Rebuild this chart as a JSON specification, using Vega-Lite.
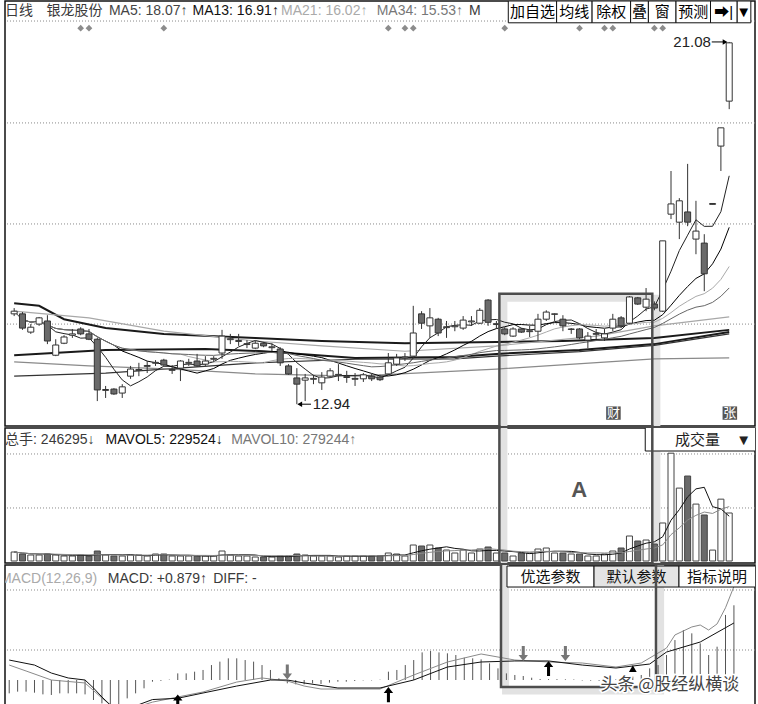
{
"$schema":"https://vega.github.io/schema/vega-lite/v6.json",
"padding":{"left":3,"top":0,"right":5,"bottom":4},
"spacing":0,
"background":"#ffffff",
"config":{"font":"Liberation Sans, Noto Sans CJK SC","view":{"stroke":"#111","strokeWidth":1.5}},
"resolve":{"scale":{"y":"independent","color":"independent","shape":"independent"}},
"datasets":{
"k":[
{"i":0,"o":14.97,"c":15.03,"h":15.10,"l":14.92,"v":46170,"m":-0.157},
{"i":1,"o":14.97,"c":14.65,"h":15.01,"l":14.61,"v":35910,"m":-0.137},
{"i":2,"o":14.56,"c":14.67,"h":14.74,"l":14.52,"v":30780,"m":-0.137},
{"i":3,"o":14.74,"c":14.88,"h":14.90,"l":14.70,"v":30780,"m":-0.149},
{"i":4,"o":14.81,"c":14.36,"h":14.94,"l":14.29,"v":35910,"m":-0.169},
{"i":5,"o":14.04,"c":14.27,"h":14.40,"l":14.02,"v":30780,"m":-0.176},
{"i":6,"o":14.31,"c":14.45,"h":14.49,"l":14.29,"v":25650,"m":-0.157},
{"i":7,"o":14.49,"c":14.52,"h":14.63,"l":14.43,"v":25650,"m":-0.157},
{"i":8,"o":14.63,"c":14.52,"h":14.67,"l":14.49,"v":30780,"m":-0.157},
{"i":9,"o":14.52,"c":14.40,"h":14.63,"l":14.38,"v":25650,"m":-0.169},
{"i":10,"o":14.40,"c":13.26,"h":14.43,"l":13.01,"v":51300,"m":-0.235},
{"i":11,"o":13.25,"c":13.27,"h":13.35,"l":13.08,"v":30780,"m":-0.275},
{"i":12,"o":13.28,"c":13.17,"h":13.30,"l":13.15,"v":25650,"m":-0.294},
{"i":13,"o":13.19,"c":13.33,"h":13.39,"l":13.08,"v":25650,"m":-0.314},
{"i":14,"o":13.57,"c":13.73,"h":13.80,"l":13.51,"v":30780,"m":-0.216},
{"i":15,"o":13.70,"c":13.72,"h":13.87,"l":13.57,"v":30780,"m":-0.157},
{"i":16,"o":13.79,"c":13.81,"h":13.91,"l":13.64,"v":25650,"m":-0.098},
{"i":17,"o":13.86,"c":13.88,"h":13.93,"l":13.80,"v":35910,"m":-0.02},
{"i":18,"o":13.93,"c":13.82,"h":13.96,"l":13.80,"v":35910,"m":-0.01},
{"i":19,"o":13.70,"c":13.72,"h":13.82,"l":13.62,"v":25650,"m":0.005},
{"i":20,"o":13.75,"c":13.91,"h":13.93,"l":13.46,"v":25650,"m":0.078},
{"i":21,"o":13.86,"c":13.88,"h":13.96,"l":13.80,"v":25650,"m":0.078},
{"i":22,"o":13.91,"c":13.80,"h":14.07,"l":13.78,"v":25650,"m":0.098},
{"i":23,"o":13.84,"c":13.91,"h":14.02,"l":13.80,"v":25650,"m":0.118},
{"i":24,"o":13.95,"c":13.97,"h":14.02,"l":13.89,"v":25650,"m":0.176},
{"i":25,"o":14.09,"c":14.47,"h":14.61,"l":13.96,"v":51300,"m":0.216},
{"i":26,"o":14.39,"c":14.41,"h":14.52,"l":14.29,"v":30780,"m":0.255},
{"i":27,"o":14.35,"c":14.37,"h":14.52,"l":14.25,"v":25650,"m":0.255},
{"i":28,"o":14.28,"c":14.30,"h":14.38,"l":14.20,"v":25650,"m":0.235},
{"i":29,"o":14.20,"c":14.31,"h":14.36,"l":14.18,"v":20520,"m":0.216},
{"i":30,"o":14.31,"c":14.25,"h":14.34,"l":14.22,"v":20520,"m":0.176},
{"i":31,"o":14.21,"c":14.23,"h":14.31,"l":14.13,"v":20520,"m":0.118},
{"i":32,"o":14.18,"c":13.87,"h":14.22,"l":13.80,"v":25650,"m":0.02},
{"i":33,"o":13.80,"c":13.62,"h":13.84,"l":13.60,"v":25650,"m":-0.039},
{"i":34,"o":13.53,"c":13.39,"h":13.75,"l":12.94,"v":35910,"m":-0.051},
{"i":35,"o":13.48,"c":13.53,"h":13.62,"l":13.01,"v":30780,"m":-0.051},
{"i":36,"o":13.50,"c":13.52,"h":13.60,"l":13.39,"v":25650,"m":-0.039},
{"i":37,"o":13.42,"c":13.55,"h":13.66,"l":13.26,"v":25650,"m":-0.047},
{"i":38,"o":13.57,"c":13.69,"h":13.75,"l":13.55,"v":25650,"m":-0.031},
{"i":39,"o":13.59,"c":13.61,"h":13.84,"l":13.46,"v":20520,"m":-0.02},
{"i":40,"o":13.54,"c":13.56,"h":13.69,"l":13.42,"v":25650,"m":-0.02},
{"i":41,"o":13.50,"c":13.52,"h":13.64,"l":13.35,"v":25650,"m":-0.012},
{"i":42,"o":13.51,"c":13.60,"h":13.64,"l":13.44,"v":25650,"m":-0.005},
{"i":43,"o":13.57,"c":13.51,"h":13.62,"l":13.46,"v":25650,"m":-0.005},
{"i":44,"o":13.55,"c":13.49,"h":13.60,"l":13.46,"v":25650,"m":0.004},
{"i":45,"o":13.62,"c":13.87,"h":14.09,"l":13.60,"v":41040,"m":0.098},
{"i":46,"o":13.84,"c":13.98,"h":14.07,"l":13.80,"v":35910,"m":0.118},
{"i":47,"o":13.98,"c":14.00,"h":14.09,"l":13.91,"v":25650,"m":0.176},
{"i":48,"o":14.02,"c":14.54,"h":15.15,"l":13.98,"v":82080,"m":0.235},
{"i":49,"o":14.97,"c":14.76,"h":15.03,"l":14.63,"v":76950,"m":0.325},
{"i":50,"o":14.70,"c":14.88,"h":15.10,"l":14.43,"v":82080,"m":0.341},
{"i":51,"o":14.85,"c":14.54,"h":14.88,"l":14.47,"v":66690,"m":0.325},
{"i":52,"o":14.66,"c":14.68,"h":14.81,"l":14.43,"v":56430,"m":0.314},
{"i":53,"o":14.68,"c":14.70,"h":14.81,"l":14.58,"v":41040,"m":0.294},
{"i":54,"o":14.65,"c":14.83,"h":14.92,"l":14.61,"v":56430,"m":0.263},
{"i":55,"o":14.79,"c":14.81,"h":14.92,"l":14.70,"v":41040,"m":0.255},
{"i":56,"o":14.76,"c":15.05,"h":15.10,"l":14.74,"v":61560,"m":0.243},
{"i":57,"o":15.28,"c":14.78,"h":15.30,"l":14.70,"v":71820,"m":0.196},
{"i":58,"o":14.73,"c":14.75,"h":14.81,"l":14.63,"v":41040,"m":0.137},
{"i":59,"o":14.63,"c":14.52,"h":14.67,"l":14.49,"v":41040,"m":0.078},
{"i":60,"o":14.47,"c":14.63,"h":14.67,"l":14.45,"v":25650,"m":0.059},
{"i":61,"o":14.63,"c":14.56,"h":14.65,"l":14.54,"v":41040,"m":0.047},
{"i":62,"o":14.57,"c":14.59,"h":14.70,"l":14.45,"v":41040,"m":0.027},
{"i":63,"o":14.58,"c":14.85,"h":14.97,"l":14.36,"v":61560,"m":0.012},
{"i":64,"o":14.85,"c":15.01,"h":15.05,"l":14.81,"v":66690,"m":0.01},
{"i":65,"o":14.96,"c":14.97,"h":14.98,"l":14.81,"v":41040,"m":0.01},
{"i":66,"o":14.85,"c":14.70,"h":14.94,"l":14.58,"v":41040,"m":0.008},
{"i":67,"o":14.62,"c":14.63,"h":14.65,"l":14.52,"v":35910,"m":0.006},
{"i":68,"o":14.63,"c":14.43,"h":14.65,"l":14.40,"v":35910,"m":-0.006},
{"i":69,"o":14.38,"c":14.47,"h":14.56,"l":14.20,"v":25650,"m":-0.008},
{"i":70,"o":14.51,"c":14.53,"h":14.63,"l":14.40,"v":25650,"m":-0.01},
{"i":71,"o":14.43,"c":14.52,"h":14.63,"l":14.36,"v":35910,"m":-0.008},
{"i":72,"o":14.65,"c":14.85,"h":14.97,"l":14.58,"v":51300,"m":0.01},
{"i":73,"o":14.88,"c":14.70,"h":14.92,"l":14.65,"v":66690,"m":0.02},
{"i":74,"o":14.76,"c":15.35,"h":15.37,"l":14.74,"v":128250,"m":0.04},
{"i":75,"o":15.33,"c":15.19,"h":15.35,"l":15.17,"v":102600,"m":0.059},
{"i":76,"o":15.12,"c":15.30,"h":15.55,"l":15.03,"v":107730,"m":0.137},
{"i":77,"o":15.19,"c":15.10,"h":15.25,"l":15.05,"v":87000,"m":0.176},
{"i":78,"o":15.03,"c":16.61,"h":16.61,"l":15.01,"v":195000,"m":0.294},
{"i":79,"o":17.21,"c":17.44,"h":18.18,"l":17.10,"v":553000,"m":0.47},
{"i":80,"o":17.03,"c":17.51,"h":17.57,"l":16.65,"v":374000,"m":0.588},
{"i":81,"o":17.26,"c":17.03,"h":18.34,"l":16.94,"v":435820,"m":0.549},
{"i":82,"o":16.65,"c":16.83,"h":17.51,"l":16.31,"v":292000,"m":0.431},
{"i":83,"o":16.56,"c":15.87,"h":16.76,"l":15.48,"v":236000,"m":0.294},
{"i":84,"o":17.43,"c":17.45,"h":17.45,"l":17.43,"v":56000,"m":0.392},
{"i":85,"o":18.74,"c":19.15,"h":19.15,"l":18.18,"v":317325,"m":0.765},
{"i":86,"o":19.75,"c":21.06,"h":21.08,"l":19.57,"v":246295,"m":0.879}
],
"lt":[
{"s":"L1","i":0,"p":15.21},{"s":"L1","i":3,"p":15.15},{"s":"L1","i":6,"p":14.85},{"s":"L1","i":11,"p":14.65},{"s":"L1","i":18,"p":14.52},{"s":"L1","i":29,"p":14.43},{"s":"L1","i":37,"p":14.36},{"s":"L1","i":47,"p":14.31},{"s":"L1","i":58,"p":14.34},{"s":"L1","i":66,"p":14.36},{"s":"L1","i":77,"p":14.43},{"s":"L1","i":86,"p":14.61},
{"s":"L2","i":0,"p":14.04},{"s":"L2","i":11,"p":14.16},{"s":"L2","i":23,"p":14.18},{"s":"L2","i":30,"p":14.13},{"s":"L2","i":41,"p":13.98},{"s":"L2","i":53,"p":14.00},{"s":"L2","i":58,"p":14.07},{"s":"L2","i":68,"p":14.16},{"s":"L2","i":77,"p":14.29},{"s":"L2","i":86,"p":14.56}
],
"ln":[
{"s":"L3","i":0,"p":13.57},{"s":"L3","i":11,"p":13.64},{"s":"L3","i":29,"p":13.87},{"s":"L3","i":41,"p":13.95},{"s":"L3","i":53,"p":13.96},{"s":"L3","i":58,"p":14.02},{"s":"L3","i":68,"p":14.12},{"s":"L3","i":77,"p":14.26},{"s":"L3","i":86,"p":14.52},
{"s":"L4","i":0,"p":13.89},{"s":"L4","i":9,"p":13.80},{"s":"L4","i":19,"p":13.73},{"s":"L4","i":29,"p":13.62},{"s":"L4","i":41,"p":13.57},{"s":"L4","i":58,"p":13.73},{"s":"L4","i":77,"p":13.96},{"s":"L4","i":86,"p":13.98},
{"s":"L5","i":0,"p":15.03},{"s":"L5","i":9,"p":14.88},{"s":"L5","i":18,"p":14.58},{"s":"L5","i":29,"p":14.36},{"s":"L5","i":37,"p":14.25},{"s":"L5","i":47,"p":14.13},{"s":"L5","i":58,"p":14.25},{"s":"L5","i":70,"p":14.47},{"s":"L5","i":77,"p":14.70},{"s":"L5","i":86,"p":14.90}
],
"md":[
{"s":"DIFF","i":0,"v":0.176},{"s":"DIFF","i":2,"v":0.106},{"s":"DIFF","i":5,"v":0.0},{"s":"DIFF","i":9,"v":-0.035},{"s":"DIFF","i":11,"v":-0.212},{"s":"DIFF","i":12,"v":-0.294},{"s":"DIFF","i":14,"v":-0.353},{"s":"DIFF","i":17,"v":-0.26},{"s":"DIFF","i":20,"v":-0.2},{"s":"DIFF","i":23,"v":-0.141},{"s":"DIFF","i":27,"v":-0.024},{"s":"DIFF","i":30,"v":0.024},{"s":"DIFF","i":33,"v":-0.012},{"s":"DIFF","i":35,"v":-0.071},{"s":"DIFF","i":37,"v":-0.106},{"s":"DIFF","i":44,"v":-0.106},{"s":"DIFF","i":48,"v":0.059},{"s":"DIFF","i":52,"v":0.212},{"s":"DIFF","i":56,"v":0.306},{"s":"DIFF","i":60,"v":0.235},{"s":"DIFF","i":64,"v":0.212},{"s":"DIFF","i":68,"v":0.2},{"s":"DIFF","i":72,"v":0.153},{"s":"DIFF","i":75,"v":0.2},{"s":"DIFF","i":78,"v":0.376},{"s":"DIFF","i":79,"v":0.53},{"s":"DIFF","i":81,"v":0.624},{"s":"DIFF","i":82,"v":0.647},{"s":"DIFF","i":83,"v":0.588},{"s":"DIFF","i":84,"v":0.66},{"s":"DIFF","i":85,"v":0.85},{"s":"DIFF","i":86,"v":1.1},
{"s":"DEA","i":0,"v":0.235},{"s":"DEA","i":3,"v":0.176},{"s":"DEA","i":5,"v":0.082},{"s":"DEA","i":7,"v":0.024},{"s":"DEA","i":9,"v":0.0},{"s":"DEA","i":10,"v":-0.094},{"s":"DEA","i":11,"v":-0.2},{"s":"DEA","i":12,"v":-0.294},{"s":"DEA","i":14,"v":-0.341},{"s":"DEA","i":17,"v":-0.23},{"s":"DEA","i":20,"v":-0.215},{"s":"DEA","i":23,"v":-0.153},{"s":"DEA","i":27,"v":-0.071},{"s":"DEA","i":31,"v":0.0},{"s":"DEA","i":33,"v":0.0},{"s":"DEA","i":35,"v":-0.035},{"s":"DEA","i":39,"v":-0.094},{"s":"DEA","i":44,"v":-0.094},{"s":"DEA","i":48,"v":0.0},{"s":"DEA","i":52,"v":0.153},{"s":"DEA","i":56,"v":0.212},{"s":"DEA","i":60,"v":0.224},{"s":"DEA","i":64,"v":0.224},{"s":"DEA","i":68,"v":0.176},{"s":"DEA","i":72,"v":0.141},{"s":"DEA","i":76,"v":0.188},{"s":"DEA","i":78,"v":0.329},{"s":"DEA","i":82,"v":0.447},{"s":"DEA","i":86,"v":0.671}
],
"aw":[
{"d":"U","i":20,"v":-0.259},{"d":"U","i":45,"v":-0.171},{"d":"U","i":64,"v":0.135},{"d":"T","i":74,"v":0.135},
{"d":"D","i":33,"v":0.094},{"d":"D","i":61,"v":0.312},{"d":"D","i":66,"v":0.312}
],
"h1":[
{"t":"日线","i":-1.1,"k":"a"},{"t":"银龙股份","i":3.9,"k":"a"},{"t":"MA5: 18.07↑","i":11.4,"k":"ma5"},{"t":"MA13: 16.91↑","i":21.45,"k":"ma13"},{"t":"MA21: 16.02↑","i":32.1,"k":"ma21"},{"t":"MA34: 15.53↑","i":43.6,"k":"ma34"},{"t":"M","i":54.7,"k":"a"}
],
"b1":[
{"t":"加自选","a":59.43,"b":65.24,"c":62.33},{"t":"均线","a":65.24,"b":69.51,"c":67.37},{"t":"除权","a":69.51,"b":74.14,"c":71.82},{"t":"叠","a":74.14,"b":76.28,"c":75.21},{"t":"窗","a":76.28,"b":79.6,"c":77.94},{"t":"预测","a":79.6,"b":83.75,"c":81.67},{"t":"➡|","a":83.75,"b":86.96,"c":85.35},{"t":"▼","a":86.96,"b":88.6,"c":87.75}
],
"dm":[{"i":8},{"i":9},{"i":18},{"i":45},{"i":47},{"i":48},{"i":59},{"i":68},{"i":71},{"i":72},{"i":77},{"i":78}],
"tag":[{"t":"财","a":71.2,"b":72.95,"c":72.07},{"t":"张","a":85.2,"b":86.95,"c":86.07}],
"h2":[
{"t":"总手: 246295↓","i":-1.09,"k":"a"},{"t":"MAVOL5: 229524↓","i":11.0,"k":"v5"},{"t":"MAVOL10: 279244↑","i":26.1,"k":"v10"}
],
"h3":[
{"t":"MACD(12,26,9)","i":-1.1,"k":"g"},{"t":"MACD: +0.879↑","i":11.7,"k":"a"},{"t":"DIFF: -","i":24.2,"k":"a"}
],
"b3":[
{"t":"优选参数","a":59.07,"b":69.4,"c":64.23},{"t":"默认参数","a":69.4,"b":79.48,"c":74.44},{"t":"指标说明","a":79.48,"b":88.6,"c":84.0}
]
},
"vconcat":[
{
"width":750,"height":425,
"resolve":{"scale":{"color":"independent","shape":"independent"}},
"layer":[
{"data":{"values":[{"g":21.55},{"g":19.26},{"g":16.99},{"g":14.74}]},"mark":{"type":"rule","stroke":"#8a8a8a","strokeDash":[1,2],"strokeWidth":1},
 "encoding":{"y":{"field":"g","type":"quantitative","scale":{"domain":[12.45,22.0],"nice":false,"zero":false},"axis":null}}},
{"data":{"values":[{}]},"mark":{"type":"rect","filled":false,"stroke":"#e2e2e2","strokeWidth":7,"clip":true},
 "encoding":{"x":{"datum":58.9,"type":"quantitative","scale":{"domain":[-0.5,88.5],"nice":false,"zero":false},"axis":null},"x2":{"datum":77.3},
  "y":{"datum":15.32,"type":"quantitative","scale":{"domain":[12.45,22.0],"nice":false,"zero":false},"axis":null},"y2":{"datum":11.0}}},
{"data":{"name":"lt"},"mark":{"type":"line","stroke":"#1a1a1a","strokeWidth":2,"clip":true},
 "encoding":{"x":{"field":"i","type":"quantitative","scale":{"domain":[-0.5,88.5],"nice":false,"zero":false},"axis":null},
  "y":{"field":"p","type":"quantitative","scale":{"domain":[12.45,22.0],"nice":false,"zero":false},"axis":null},"detail":{"field":"s"}}},
{"data":{"name":"ln"},"mark":{"type":"line","strokeWidth":1.2,"clip":true},
 "encoding":{"x":{"field":"i","type":"quantitative","scale":{"domain":[-0.5,88.5],"nice":false,"zero":false},"axis":null},
  "y":{"field":"p","type":"quantitative","scale":{"domain":[12.45,22.0],"nice":false,"zero":false},"axis":null},
  "color":{"field":"s","type":"nominal","scale":{"domain":["L3","L4","L5"],"range":["#333333","#8a8a8a","#a8a8a8"]},"legend":null}}},
{"data":{"name":"k"},
 "transform":[
  {"window":[{"op":"mean","field":"c","as":"MA5"}],"frame":[-4,0],"sort":[{"field":"i"}]},
  {"window":[{"op":"mean","field":"c","as":"MA13"}],"frame":[-12,0],"sort":[{"field":"i"}]},
  {"window":[{"op":"mean","field":"c","as":"MA21"}],"frame":[-20,0],"sort":[{"field":"i"}]},
  {"window":[{"op":"mean","field":"c","as":"MA34"}],"frame":[-33,0],"sort":[{"field":"i"}]},
  {"fold":["MA5","MA13","MA21","MA34"],"as":["s","val"]}
 ],
 "mark":{"type":"line","strokeWidth":1,"clip":true},
 "encoding":{"x":{"field":"i","type":"quantitative","scale":{"domain":[-0.5,88.5],"nice":false,"zero":false},"axis":null},
  "y":{"field":"val","type":"quantitative","scale":{"domain":[12.45,22.0],"nice":false,"zero":false},"axis":null},
  "color":{"field":"s","type":"nominal","scale":{"domain":["MA5","MA13","MA21","MA34"],"range":["#222222","#000000","#aaaaaa","#666666"]},"legend":null}}},
{"data":{"name":"k"},"mark":{"type":"rule","stroke":"#333","strokeWidth":1},
 "encoding":{"x":{"field":"i","type":"quantitative","scale":{"domain":[-0.5,88.5],"nice":false,"zero":false},"axis":null},
  "y":{"field":"l","type":"quantitative","scale":{"domain":[12.45,22.0],"nice":false,"zero":false},"axis":null},"y2":{"field":"h"}}},
{"data":{"name":"k"},"mark":{"type":"bar","width":6,"stroke":"#333","strokeWidth":1},
 "encoding":{"x":{"field":"i","type":"quantitative","scale":{"domain":[-0.5,88.5],"nice":false,"zero":false},"axis":null},
  "y":{"field":"o","type":"quantitative","scale":{"domain":[12.45,22.0],"nice":false,"zero":false},"axis":null},"y2":{"field":"c"},
  "fill":{"condition":{"test":"datum.c >= datum.o","value":"#ffffff"},"value":"#6a6a6a"}}},
{"data":{"name":"dm"},"mark":{"type":"point","shape":"diamond","filled":true,"fill":"#8c8c8c","size":45,"opacity":1},
 "encoding":{"x":{"field":"i","type":"quantitative","scale":{"domain":[-0.5,88.5],"nice":false,"zero":false},"axis":null},
  "y":{"datum":21.39,"type":"quantitative","scale":{"domain":[12.45,22.0],"nice":false,"zero":false},"axis":null}}},
{"data":{"name":"h1"},"mark":{"type":"text","align":"left","baseline":"middle","fontSize":14,"clip":true},
 "encoding":{"x":{"field":"i","type":"quantitative","scale":{"domain":[-0.5,88.5],"nice":false,"zero":false},"axis":null},
  "y":{"datum":21.78,"type":"quantitative","scale":{"domain":[12.45,22.0],"nice":false,"zero":false},"axis":null},
  "text":{"field":"t"},
  "color":{"field":"k","type":"nominal","scale":{"domain":["a","ma5","ma13","ma21","ma34"],"range":["#3a3a3a","#444444","#111111","#aaaaaa","#777777"]},"legend":null}}},
{"data":{"name":"b1"},"mark":{"type":"rect","fill":"#ffffff","stroke":"#111","strokeWidth":1,"clip":true},
 "encoding":{"x":{"field":"a","type":"quantitative","scale":{"domain":[-0.5,88.5],"nice":false,"zero":false},"axis":null},"x2":{"field":"b"},
  "y":{"datum":22.0,"type":"quantitative","scale":{"domain":[12.45,22.0],"nice":false,"zero":false},"axis":null},"y2":{"datum":21.51}}},
{"data":{"name":"b1"},"mark":{"type":"text","align":"center","baseline":"middle","fontSize":15,"fill":"#000","clip":true},
 "encoding":{"x":{"field":"c","type":"quantitative","scale":{"domain":[-0.5,88.5],"nice":false,"zero":false},"axis":null},
  "y":{"datum":21.755,"type":"quantitative","scale":{"domain":[12.45,22.0],"nice":false,"zero":false},"axis":null},"text":{"field":"t"}}},
{"data":{"values":[{"a":34.2,"b":35.7,"p":12.94},{"a":83.9,"b":85.6,"p":21.08}]},"mark":{"type":"rule","stroke":"#000","strokeWidth":1},
 "encoding":{"x":{"field":"a","type":"quantitative","scale":{"domain":[-0.5,88.5],"nice":false,"zero":false},"axis":null},"x2":{"field":"b"},
  "y":{"field":"p","type":"quantitative","scale":{"domain":[12.45,22.0],"nice":false,"zero":false},"axis":null}}},
{"data":{"values":[{"d":"L","i":34.35,"p":12.94},{"d":"R","i":85.5,"p":21.08}]},"mark":{"type":"point","filled":true,"fill":"#000","size":30,"opacity":1},
 "encoding":{"x":{"field":"i","type":"quantitative","scale":{"domain":[-0.5,88.5],"nice":false,"zero":false},"axis":null},
  "y":{"field":"p","type":"quantitative","scale":{"domain":[12.45,22.0],"nice":false,"zero":false},"axis":null},
  "shape":{"field":"d","type":"nominal","scale":{"domain":["L","R"],"range":["triangle-left","triangle-right"]},"legend":null}}},
{"data":{"values":[{"t":"12.94","i":35.9,"p":12.94}]},"mark":{"type":"text","align":"left","baseline":"middle","fontSize":15,"fill":"#222"},
 "encoding":{"x":{"field":"i","type":"quantitative","scale":{"domain":[-0.5,88.5],"nice":false,"zero":false},"axis":null},
  "y":{"field":"p","type":"quantitative","scale":{"domain":[12.45,22.0],"nice":false,"zero":false},"axis":null},"text":{"field":"t"}}},
{"data":{"values":[{"t":"21.08","i":83.8,"p":21.08}]},"mark":{"type":"text","align":"right","baseline":"middle","fontSize":15,"fill":"#222"},
 "encoding":{"x":{"field":"i","type":"quantitative","scale":{"domain":[-0.5,88.5],"nice":false,"zero":false},"axis":null},
  "y":{"field":"p","type":"quantitative","scale":{"domain":[12.45,22.0],"nice":false,"zero":false},"axis":null},"text":{"field":"t"}}},
{"data":{"name":"tag"},"mark":{"type":"rect","fill":"#555555","clip":true},
 "encoding":{"x":{"field":"a","type":"quantitative","scale":{"domain":[-0.5,88.5],"nice":false,"zero":false},"axis":null},"x2":{"field":"b"},
  "y":{"datum":12.89,"type":"quantitative","scale":{"domain":[12.45,22.0],"nice":false,"zero":false},"axis":null},"y2":{"datum":12.59}}},
{"data":{"name":"tag"},"mark":{"type":"text","align":"center","baseline":"middle","fontSize":13,"fill":"#ffffff","clip":true},
 "encoding":{"x":{"field":"c","type":"quantitative","scale":{"domain":[-0.5,88.5],"nice":false,"zero":false},"axis":null},
  "y":{"datum":12.74,"type":"quantitative","scale":{"domain":[12.45,22.0],"nice":false,"zero":false},"axis":null},"text":{"field":"t"}}},
{"data":{"values":[{}]},"mark":{"type":"rect","filled":false,"stroke":"#4d4d4d","strokeWidth":2.5,"clip":true},
 "encoding":{"x":{"datum":58.36,"type":"quantitative","scale":{"domain":[-0.5,88.5],"nice":false,"zero":false},"axis":null},"x2":{"datum":76.75},
  "y":{"datum":15.42,"type":"quantitative","scale":{"domain":[12.45,22.0],"nice":false,"zero":false},"axis":null},"y2":{"datum":11.0}}}
]
},
{
"width":750,"height":135,
"resolve":{"scale":{"color":"independent"}},
"layer":[
{"data":{"values":[{"g":549000},{"g":272000}]},"mark":{"type":"rule","stroke":"#8a8a8a","strokeDash":[1,2],"strokeWidth":1},
 "encoding":{"y":{"field":"g","type":"quantitative","scale":{"domain":[-10260,682290],"nice":false,"zero":false},"axis":null}}},
{"data":{"values":[{}]},"mark":{"type":"rect","filled":false,"stroke":"#e2e2e2","strokeWidth":7,"clip":true},
 "encoding":{"x":{"datum":58.9,"type":"quantitative","scale":{"domain":[-0.5,88.5],"nice":false,"zero":false},"axis":null},"x2":{"datum":77.3},
  "y":{"datum":-100000,"type":"quantitative","scale":{"domain":[-10260,682290],"nice":false,"zero":false},"axis":null},"y2":{"datum":900000}}},
{"data":{"name":"k"},"mark":{"type":"bar","width":6,"stroke":"#444","strokeWidth":1},
 "encoding":{"x":{"field":"i","type":"quantitative","scale":{"domain":[-0.5,88.5],"nice":false,"zero":false},"axis":null},
  "y":{"field":"v","type":"quantitative","scale":{"domain":[-10260,682290],"nice":false,"zero":false},"axis":null},"y2":{"datum":0},
  "fill":{"condition":{"test":"datum.c >= datum.o","value":"#ffffff"},"value":"#6a6a6a"}}},
{"data":{"name":"k"},
 "transform":[
  {"window":[{"op":"mean","field":"v","as":"MAVOL5"}],"frame":[-4,0],"sort":[{"field":"i"}]},
  {"window":[{"op":"mean","field":"v","as":"MAVOL10"}],"frame":[-9,0],"sort":[{"field":"i"}]},
  {"fold":["MAVOL5","MAVOL10"],"as":["s","val"]}
 ],
 "mark":{"type":"line","strokeWidth":1,"clip":true},
 "encoding":{"x":{"field":"i","type":"quantitative","scale":{"domain":[-0.5,88.5],"nice":false,"zero":false},"axis":null},
  "y":{"field":"val","type":"quantitative","scale":{"domain":[-10260,682290],"nice":false,"zero":false},"axis":null},
  "color":{"field":"s","type":"nominal","scale":{"domain":["MAVOL5","MAVOL10"],"range":["#111111","#8a8a8a"]},"legend":null}}},
{"data":{"name":"h2"},"mark":{"type":"text","align":"left","baseline":"middle","fontSize":14,"clip":true},
 "encoding":{"x":{"field":"i","type":"quantitative","scale":{"domain":[-0.5,88.5],"nice":false,"zero":false},"axis":null},
  "y":{"datum":620730,"type":"quantitative","scale":{"domain":[-10260,682290],"nice":false,"zero":false},"axis":null},
  "text":{"field":"t"},
  "color":{"field":"k","type":"nominal","scale":{"domain":["a","v5","v10"],"range":["#3a3a3a","#111111","#777777"]},"legend":null}}},
{"data":{"values":[{}]},"mark":{"type":"rect","fill":"#ffffff","stroke":"#111","strokeWidth":1,"clip":true},
 "encoding":{"x":{"datum":75.9,"type":"quantitative","scale":{"domain":[-0.5,88.5],"nice":false,"zero":false},"axis":null},"x2":{"datum":89.5},
  "y":{"datum":690000,"type":"quantitative","scale":{"domain":[-10260,682290],"nice":false,"zero":false},"axis":null},"y2":{"datum":564300}}},
{"data":{"values":[{"t":"成交量","i":82.2},{"t":"▼","i":87.75}]},"mark":{"type":"text","align":"center","baseline":"middle","fontSize":15,"fill":"#222","clip":true},
 "encoding":{"x":{"field":"i","type":"quantitative","scale":{"domain":[-0.5,88.5],"nice":false,"zero":false},"axis":null},
  "y":{"datum":622000,"type":"quantitative","scale":{"domain":[-10260,682290],"nice":false,"zero":false},"axis":null},"text":{"field":"t"}}},
{"data":{"values":[{"t":"A","i":67.97}]},"mark":{"type":"text","align":"center","baseline":"middle","fontSize":22,"fontWeight":"bold","fill":"#555"},
 "encoding":{"x":{"field":"i","type":"quantitative","scale":{"domain":[-0.5,88.5],"nice":false,"zero":false},"axis":null},
  "y":{"datum":364230,"type":"quantitative","scale":{"domain":[-10260,682290],"nice":false,"zero":false},"axis":null},"text":{"field":"t"}}},
{"data":{"values":[{}]},"mark":{"type":"rect","filled":false,"stroke":"#4d4d4d","strokeWidth":2.5,"clip":true},
 "encoding":{"x":{"datum":58.36,"type":"quantitative","scale":{"domain":[-0.5,88.5],"nice":false,"zero":false},"axis":null},"x2":{"datum":76.75},
  "y":{"datum":-100000,"type":"quantitative","scale":{"domain":[-10260,682290],"nice":false,"zero":false},"axis":null},"y2":{"datum":900000}}}
]
},
{
"width":750,"height":140,
"resolve":{"scale":{"color":"independent"}},
"layer":[
{"data":{"values":[{"g":1.059},{"g":0.353}]},"mark":{"type":"rule","stroke":"#8a8a8a","strokeDash":[1,2],"strokeWidth":1},
 "encoding":{"y":{"field":"g","type":"quantitative","scale":{"domain":[-0.294,1.353],"nice":false,"zero":false},"axis":null}}},
{"data":{"values":[{}]},"mark":{"type":"rect","filled":false,"stroke":"#e2e2e2","strokeWidth":7,"clip":true},
 "encoding":{"x":{"datum":58.9,"type":"quantitative","scale":{"domain":[-0.5,88.5],"nice":false,"zero":false},"axis":null},"x2":{"datum":77.3},
  "y":{"datum":2,"type":"quantitative","scale":{"domain":[-0.294,1.353],"nice":false,"zero":false},"axis":null},"y2":{"datum":-0.13}}},
{"data":{"name":"k"},"mark":{"type":"rule","stroke":"#555","strokeWidth":1,"clip":true},
 "encoding":{"x":{"field":"i","type":"quantitative","scale":{"domain":[-0.5,88.5],"nice":false,"zero":false},"axis":null},
  "y":{"field":"m","type":"quantitative","scale":{"domain":[-0.294,1.353],"nice":false,"zero":false},"axis":null},"y2":{"datum":0}}},
{"data":{"name":"md"},"mark":{"type":"line","strokeWidth":1,"clip":true},
 "encoding":{"x":{"field":"i","type":"quantitative","scale":{"domain":[-0.5,88.5],"nice":false,"zero":false},"axis":null},
  "y":{"field":"v","type":"quantitative","scale":{"domain":[-0.294,1.353],"nice":false,"zero":false},"axis":null},
  "color":{"field":"s","type":"nominal","scale":{"domain":["DIFF","DEA"],"range":["#8a8a8a","#111111"]},"legend":null}}},
{"data":{"name":"aw"},"transform":[{"filter":"datum.d == 'U'"}],
 "mark":{"type":"point","shape":"M0,-1L0.62,-0.2L0.2,-0.2L0.2,1L-0.2,1L-0.2,-0.2L-0.62,-0.2Z","filled":true,"fill":"#000","size":230,"opacity":1,"clip":true},
 "encoding":{"x":{"field":"i","type":"quantitative","scale":{"domain":[-0.5,88.5],"nice":false,"zero":false},"axis":null},
  "y":{"field":"v","type":"quantitative","scale":{"domain":[-0.294,1.353],"nice":false,"zero":false},"axis":null}}},
{"data":{"name":"aw"},"transform":[{"filter":"datum.d == 'D'"}],
 "mark":{"type":"point","shape":"M0,1L0.62,0.2L0.2,0.2L0.2,-1L-0.2,-1L-0.2,0.2L-0.62,0.2Z","filled":true,"fill":"#777","size":230,"opacity":1,"clip":true},
 "encoding":{"x":{"field":"i","type":"quantitative","scale":{"domain":[-0.5,88.5],"nice":false,"zero":false},"axis":null},
  "y":{"field":"v","type":"quantitative","scale":{"domain":[-0.294,1.353],"nice":false,"zero":false},"axis":null}}},
{"data":{"name":"aw"},"transform":[{"filter":"datum.d == 'T'"}],
 "mark":{"type":"point","shape":"triangle-up","filled":true,"fill":"#000","size":60,"opacity":1,"clip":true},
 "encoding":{"x":{"field":"i","type":"quantitative","scale":{"domain":[-0.5,88.5],"nice":false,"zero":false},"axis":null},
  "y":{"field":"v","type":"quantitative","scale":{"domain":[-0.294,1.353],"nice":false,"zero":false},"axis":null}}},
{"data":{"name":"h3"},"mark":{"type":"text","align":"left","baseline":"middle","fontSize":14,"clip":true},
 "encoding":{"x":{"field":"i","type":"quantitative","scale":{"domain":[-0.5,88.5],"nice":false,"zero":false},"axis":null},
  "y":{"datum":1.188,"type":"quantitative","scale":{"domain":[-0.294,1.353],"nice":false,"zero":false},"axis":null},
  "text":{"field":"t"},
  "color":{"field":"k","type":"nominal","scale":{"domain":["a","g"],"range":["#3a3a3a","#aaaaaa"]},"legend":null}}},
{"data":{"name":"b3"},"mark":{"type":"rect","stroke":"#111","strokeWidth":1,"clip":true},
 "encoding":{"x":{"field":"a","type":"quantitative","scale":{"domain":[-0.5,88.5],"nice":false,"zero":false},"axis":null},"x2":{"field":"b"},
  "y":{"datum":1.341,"type":"quantitative","scale":{"domain":[-0.294,1.353],"nice":false,"zero":false},"axis":null},"y2":{"datum":1.094},
  "fill":{"condition":{"test":"datum.t == '默认参数'","value":"#e4e4e4"},"value":"#ffffff"}}},
{"data":{"name":"b3"},"mark":{"type":"text","align":"center","baseline":"middle","fontSize":15,"fill":"#111","clip":true},
 "encoding":{"x":{"field":"c","type":"quantitative","scale":{"domain":[-0.5,88.5],"nice":false,"zero":false},"axis":null},
  "y":{"datum":1.215,"type":"quantitative","scale":{"domain":[-0.294,1.353],"nice":false,"zero":false},"axis":null},"text":{"field":"t"}}},
{"data":{"values":[{}]},"mark":{"type":"rect","filled":false,"stroke":"#4d4d4d","strokeWidth":2.5,"clip":true},
 "encoding":{"x":{"datum":58.36,"type":"quantitative","scale":{"domain":[-0.5,88.5],"nice":false,"zero":false},"axis":null},"x2":{"datum":76.75},
  "y":{"datum":2,"type":"quantitative","scale":{"domain":[-0.294,1.353],"nice":false,"zero":false},"axis":null},"y2":{"datum":-0.082}}},
{"data":{"values":[{"t":"头条 @股经纵横谈","i":78.4}]},"mark":{"type":"text","align":"center","baseline":"middle","fontSize":17,"font":"Noto Sans CJK SC","fill":"#ffffff","stroke":"#ffffff","strokeWidth":3,"clip":true},
 "encoding":{"x":{"field":"i","type":"quantitative","scale":{"domain":[-0.5,88.5],"nice":false,"zero":false},"axis":null},
  "y":{"datum":-0.059,"type":"quantitative","scale":{"domain":[-0.294,1.353],"nice":false,"zero":false},"axis":null},"text":{"field":"t"}}},
{"data":{"values":[{"t":"头条 @股经纵横谈","i":78.4}]},"mark":{"type":"text","align":"center","baseline":"middle","fontSize":17,"font":"Noto Sans CJK SC","fill":"#444444","clip":true},
 "encoding":{"x":{"field":"i","type":"quantitative","scale":{"domain":[-0.5,88.5],"nice":false,"zero":false},"axis":null},
  "y":{"datum":-0.059,"type":"quantitative","scale":{"domain":[-0.294,1.353],"nice":false,"zero":false},"axis":null},"text":{"field":"t"}}}
]
}
]
}
